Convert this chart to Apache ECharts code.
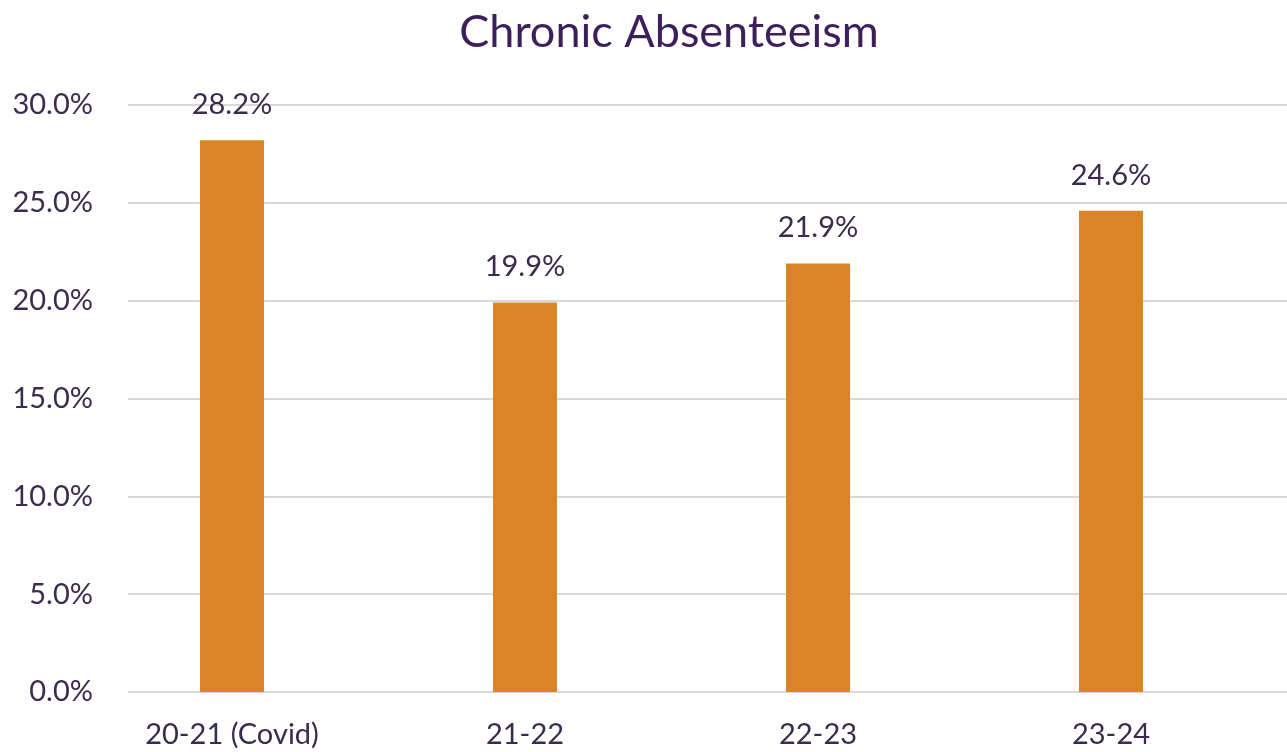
<!DOCTYPE html>
<html>
<head>
<meta charset="utf-8">
<script src="https://cdn.jsdelivr.net/npm/echarts@6/dist/echarts.min.js"></script>
<style>
html,body{margin:0;padding:0;background:#fff;}
#chart{width:1287px;height:752px;}
</style>
</head>
<body>
<div id="chart"></div>
<script>
const titleText = "Chronic Absenteeism";
const categories = ["20-21 (Covid)", "21-22", "22-23", "23-24"];
const values = [28.2, 19.9, 21.9, 24.6];
const yTicks = { min: 0, max: 30, interval: 5 };

const FONT = "Lato";
const TXT = "#3b2b4d";
const chart = echarts.init(document.getElementById('chart'));
chart.setOption({
  backgroundColor: '#ffffff',
  animation: false,
  title: {
    text: titleText, left: 664, top: 5, textAlign: 'center',
    textStyle: { fontFamily: FONT, fontSize: 45, fontWeight: 'normal', color: '#3d1f5c' }
  },
  grid: [
    { left: 128, right: 0, top: 105, bottom: 60 },
    { left: 85.5, right: 29.5, top: 105, bottom: 60 }
  ],
  xAxis: [
    { gridIndex: 0, type: 'category', data: categories, show: false },
    { gridIndex: 1, type: 'category', data: categories,
      axisLine: { show: false }, axisTick: { show: false },
      axisLabel: { margin: 28, fontFamily: FONT, fontSize: 29, color: TXT } }
  ],
  yAxis: [
    { gridIndex: 0, type: 'value', min: yTicks.min, max: yTicks.max, interval: yTicks.interval,
      axisLine: { show: false }, axisTick: { show: false },
      axisLabel: { margin: 35, fontFamily: FONT, fontSize: 29, color: TXT,
        formatter: v => v.toFixed(1) + '%' },
      splitLine: { lineStyle: { color: '#d9d9d9', width: 2 } } },
    { gridIndex: 1, type: 'value', min: yTicks.min, max: yTicks.max, interval: yTicks.interval, show: false }
  ],
  series: [{
    type: 'bar', xAxisIndex: 1, yAxisIndex: 1, data: values, barWidth: 64,
    itemStyle: { color: '#d98526' },
    label: { show: true, position: 'top', distance: 21, fontFamily: FONT, fontSize: 29, color: TXT,
      formatter: p => p.value.toFixed(1) + '%' }
  }]
});
</script>
</body>
</html>
